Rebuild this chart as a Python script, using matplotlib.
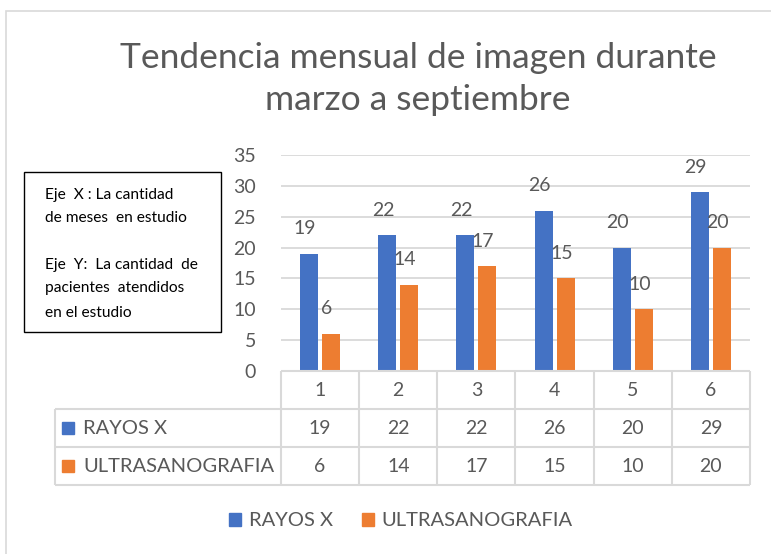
import numpy as np
import matplotlib.pyplot as plt
from matplotlib.patches import Rectangle, Patch

# datos
meses = ['1', '2', '3', '4', '5', '6']
rayos_x = [19, 22, 22, 26, 20, 29]
ultrasanografia = [6, 14, 17, 15, 10, 20]
series = ['RAYOS X', 'ULTRASANOGRAFIA']
titulo = 'Tendencia mensual de imagen durante\nmarzo a septiembre'
nota = ['Eje  X : La cantidad', 'de meses  en estudio', '',
        'Eje  Y:  La cantidad  de', 'pacientes  atendidos', 'en el estudio']

AZUL = '#4472C4'
NARANJA = '#ED7D31'
GRIS = '#595959'
LINEA = '#D9D9D9'

plt.rcParams['font.family'] = ['Lato', 'DejaVu Sans']

W, H = 771, 554
fig = plt.figure(figsize=(W / 100, H / 100), dpi=100)

def px(x0, y0, x1, y1):
    # pixeles (desde arriba) -> fraccion de figura
    return [x0 / W, 1 - y1 / H, (x1 - x0) / W, (y1 - y0) / H]

# borde del grafico
fig.add_artist(Rectangle((6 / W, -0.1), 1.2, 1 - 11 / H + 0.1, transform=fig.transFigure,
                         fill=False, edgecolor=LINEA, lw=1.2))

# titulo
fig.text(418 / W, 1 - 79 / H, titulo, ha='center', va='center', fontsize=25.5,
         color=GRIS, linespacing=1.38)

# barras
ax = fig.add_axes(px(281, 155, 750, 371))
x = np.arange(len(meses))
ancho = 0.23
d = 0.14
ax.bar(x - d, rayos_x, ancho, color=AZUL, zorder=3)
ax.bar(x + d, ultrasanografia, ancho, color=NARANJA, zorder=3)
for xi, v in zip(x, rayos_x):
    ax.annotate(str(v), (xi - d, v), xytext=(-3, 18), textcoords='offset points',
                ha='center', va='center', fontsize=14, color=GRIS)
for xi, v in zip(x, ultrasanografia):
    ax.annotate(str(v), (xi + d, v), xytext=(-3, 18), textcoords='offset points',
                ha='center', va='center', fontsize=14, color=GRIS)
ax.set_xlim(-0.5, 5.5)
ax.set_ylim(0, 35)
ax.set_yticks(range(0, 36, 5))
ax.set_xticks([])
ax.tick_params(axis='y', length=0, pad=18, labelsize=14, labelcolor=GRIS)
ax.grid(axis='y', color=LINEA, lw=1.3, zorder=0)
for s in ax.spines.values():
    s.set_visible(False)

# tabla de datos
tab = fig.add_axes(px(55, 371, 750, 485))
xmin = -0.5 - (281 - 55) / 78.17
tab.set_xlim(xmin, 5.5)
tab.set_ylim(0, 3)
tab.axis('off')
kw = dict(color=LINEA, lw=1.5, clip_on=False)
tab.hlines(3, -0.5, 5.5, **kw)
tab.hlines([0, 1, 2], xmin, 5.5, **kw)
tab.vlines(np.arange(-0.5, 6, 1), 0, 3, **kw)
tab.vlines(xmin, 0, 2, **kw)
for i, m in enumerate(meses):
    tab.text(i, 2.5, m, ha='center', va='center', fontsize=14, color=GRIS)
    tab.text(i, 1.5, str(rayos_x[i]), ha='center', va='center', fontsize=14, color=GRIS)
    tab.text(i, 0.5, str(ultrasanografia[i]), ha='center', va='center', fontsize=14, color=GRIS)
for yy, nombre, col in [(1.5, series[0], AZUL), (0.5, series[1], NARANJA)]:
    tab.plot(xmin + 0.166, yy, marker='s', ms=8, color=col, clip_on=False)
    tab.text(xmin + 0.36, yy, nombre, ha='left', va='center', fontsize=14.5, color=GRIS)

# leyenda
handles = [Patch(color=AZUL), Patch(color=NARANJA)]
fig.legend(handles, series, loc='center', bbox_to_anchor=(401 / W, 1 - 521 / H),
           ncol=2, frameon=False, fontsize=14.5, labelcolor=GRIS,
           handlelength=0.6, handleheight=0.6, handletextpad=0.4, columnspacing=1.4)

# cuadro de texto
fig.add_artist(Rectangle((24 / W, 1 - 332 / H), 197 / W, 160 / H, transform=fig.transFigure,
                         fill=False, edgecolor='black', lw=1))
ys = [195, 218, 241, 265, 288, 313]
for yy, linea in zip(ys, nota):
    fig.text(45 / W, 1 - yy / H, linea, ha='left', va='center', fontsize=11.2, color='black')

fig.savefig('out.png', dpi=100)
